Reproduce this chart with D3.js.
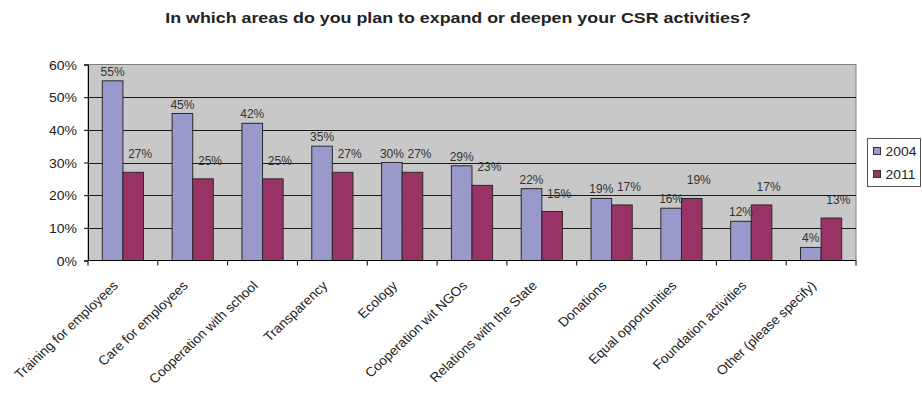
<!DOCTYPE html>
<html>
<head>
<meta charset="utf-8">
<script src="https://cdn.jsdelivr.net/npm/d3@7"></script>
<style>
  body { margin: 0; background: #fff; }
  svg { display: block; font-family: "Liberation Sans", Arial, sans-serif; }
</style>
</head>
<body>
<div id="chart"></div>
<script>
const categories = [
    "Training for employees",
    "Care for employees",
    "Cooperation with school",
    "Transparency",
    "Ecology",
    "Cooperation wit NGOs",
    "Relations with the State",
    "Donations",
    "Equal opportunities",
    "Foundation activities",
    "Other (please specify)"
];
const values2004 = [55, 45, 42, 35, 30, 29, 22, 19, 16, 12, 4];
const values2011 = [27, 25, 25, 27, 27, 23, 15, 17, 19, 17, 13];
const seriesNames = ["2004", "2011"];
const yTicks = [0, 10, 20, 30, 40, 50, 60];

const width = 922,
    height = 397,
    marginTop = 64.5,
    marginRight = 66,
    marginBottom = 136.5,
    marginLeft = 88;

const colors = ["#9999cc", "#993366"];

// the original export is a little stretched sideways, so text gets a scaleX
const stretch = (sel, k, tx, ty, extra = "") =>
    sel.attr("transform", (d, i) => `translate(${tx(d, i)},${ty(d, i)}) scale(${k},1)${extra}`);

const rows = categories.map((c, i) => ({
    name: c,
    values: [values2004[i], values2011[i]]
}));

const svg = d3.select("#chart").append("svg")
    .attr("width", width)
    .attr("height", height)
    .attr("viewBox", [0, 0, width, height]);

// title
svg.append("text")
    .attr("transform", "translate(458,23) scale(1.19,1)")
    .attr("text-anchor", "middle")
    .attr("font-size", 15)
    .attr("font-weight", "bold")
    .attr("fill", "#222")
    .text("In which areas do you plan to expand or deepen your CSR activities?");

const x = d3.scaleBand()
    .domain(categories)
    .range([marginLeft, width - marginRight])
    .paddingInner(0.41)
    .paddingOuter(0.205);

const xs = d3.scaleBand()
    .domain(seriesNames)
    .range([0, x.bandwidth()]);

const y = d3.scaleLinear()
    .domain([0, 60])
    .range([height - marginBottom, marginTop]);

// plot background
svg.append("rect")
    .attr("x", marginLeft)
    .attr("y", marginTop)
    .attr("width", width - marginLeft - marginRight)
    .attr("height", height - marginTop - marginBottom)
    .attr("fill", "#c8c8c8")
    .attr("stroke", "#808080");

// grid lines
svg.append("g")
    .selectAll("line")
    .data(yTicks.filter(d => d > 0 && d < 60))
    .join("line")
    .attr("x1", marginLeft)
    .attr("x2", width - marginRight)
    .attr("y1", d => Math.round(y(d)) + 0.5)
    .attr("y2", d => Math.round(y(d)) + 0.5)
    .attr("stroke", "#1a1a1a");

// bars
const group = svg.append("g")
    .selectAll("g")
    .data(rows)
    .join("g")
    .attr("transform", d => `translate(${x(d.name)},0)`);

group.selectAll("rect")
    .data(d => d.values.map((v, i) => ({ key: seriesNames[i], value: v, i })))
    .join("rect")
    .attr("x", d => xs(d.key))
    .attr("y", d => y(d.value))
    .attr("width", xs.bandwidth())
    .attr("height", d => y(0) - y(d.value))
    .attr("fill", d => colors[d.i])
    .attr("stroke", "#2a2a2a")
    .attr("stroke-width", 1);

// value labels (Excel nudges the 2011 ones higher and to the right)
group.selectAll("text")
    .data(d => d.values.map((v, i) => ({ key: seriesNames[i], value: v, i })))
    .join("text")
    .attr("x", d => xs(d.key) + xs.bandwidth() / 2 + (d.i ? 7 : 0))
    .attr("y", d => y(d.value) - (d.i ? 14 : 5))
    .attr("text-anchor", "middle")
    .attr("font-size", 12)
    .attr("fill", "#333")
    .text(d => d.value + "%");

// y axis
const yAxis = svg.append("g")
    .attr("transform", `translate(${marginLeft},0)`)
    .call(d3.axisLeft(y).tickValues(yTicks).tickFormat(d => d + "%").tickSize(4).tickPadding(6));
yAxis.select(".domain").attr("stroke", "#000");
yAxis.selectAll(".tick line").attr("stroke", "#000");
yAxis.selectAll(".tick text")
    .attr("font-size", 13)
    .attr("font-family", "Liberation Sans, Arial, sans-serif")
    .attr("fill", "#222")
    .attr("x", null)
    .attr("dy", null)
    .call(stretch, 1.08, () => -11, () => 4.5);

// x axis: ticks sit between categories
const step = x.step();
const xAxis = svg.append("g")
    .attr("transform", `translate(0,${height - marginBottom})`);
xAxis.append("line")
    .attr("x1", marginLeft)
    .attr("x2", width - marginRight)
    .attr("stroke", "#000");
xAxis.selectAll(".sep")
    .data(d3.range(categories.length + 1))
    .join("line")
    .attr("class", "sep")
    .attr("x1", i => marginLeft + i * step)
    .attr("x2", i => marginLeft + i * step)
    .attr("y1", 0)
    .attr("y2", 5)
    .attr("stroke", "#000");

xAxis.selectAll(".cat")
    .data(categories)
    .join("text")
    .attr("class", "cat")
    .attr("text-anchor", "end")
    .attr("font-size", 13)
    .attr("fill", "#222")
    .text(d => d)
    .call(stretch, 1.06, d => x(d) + x.bandwidth() / 2 - 4, () => 26, " rotate(-45)");

// legend
const legend = svg.append("g")
    .attr("transform", "translate(867.5,138.5)");
legend.append("rect")
    .attr("width", 53)
    .attr("height", 48)
    .attr("fill", "#fff")
    .attr("stroke", "#555");
const item = legend.selectAll(".item")
    .data(seriesNames)
    .join("g")
    .attr("class", "item")
    .attr("transform", (d, i) => `translate(6,${9 + i * 23})`);
item.append("rect")
    .attr("width", 7)
    .attr("height", 7)
    .attr("fill", (d, i) => colors[i])
    .attr("stroke", "#333");
item.append("text")
    .attr("font-size", 13.5)
    .attr("fill", "#222")
    .text(d => d)
    .call(stretch, 1.03, () => 12, () => 8.5);
</script>
</body>
</html>
